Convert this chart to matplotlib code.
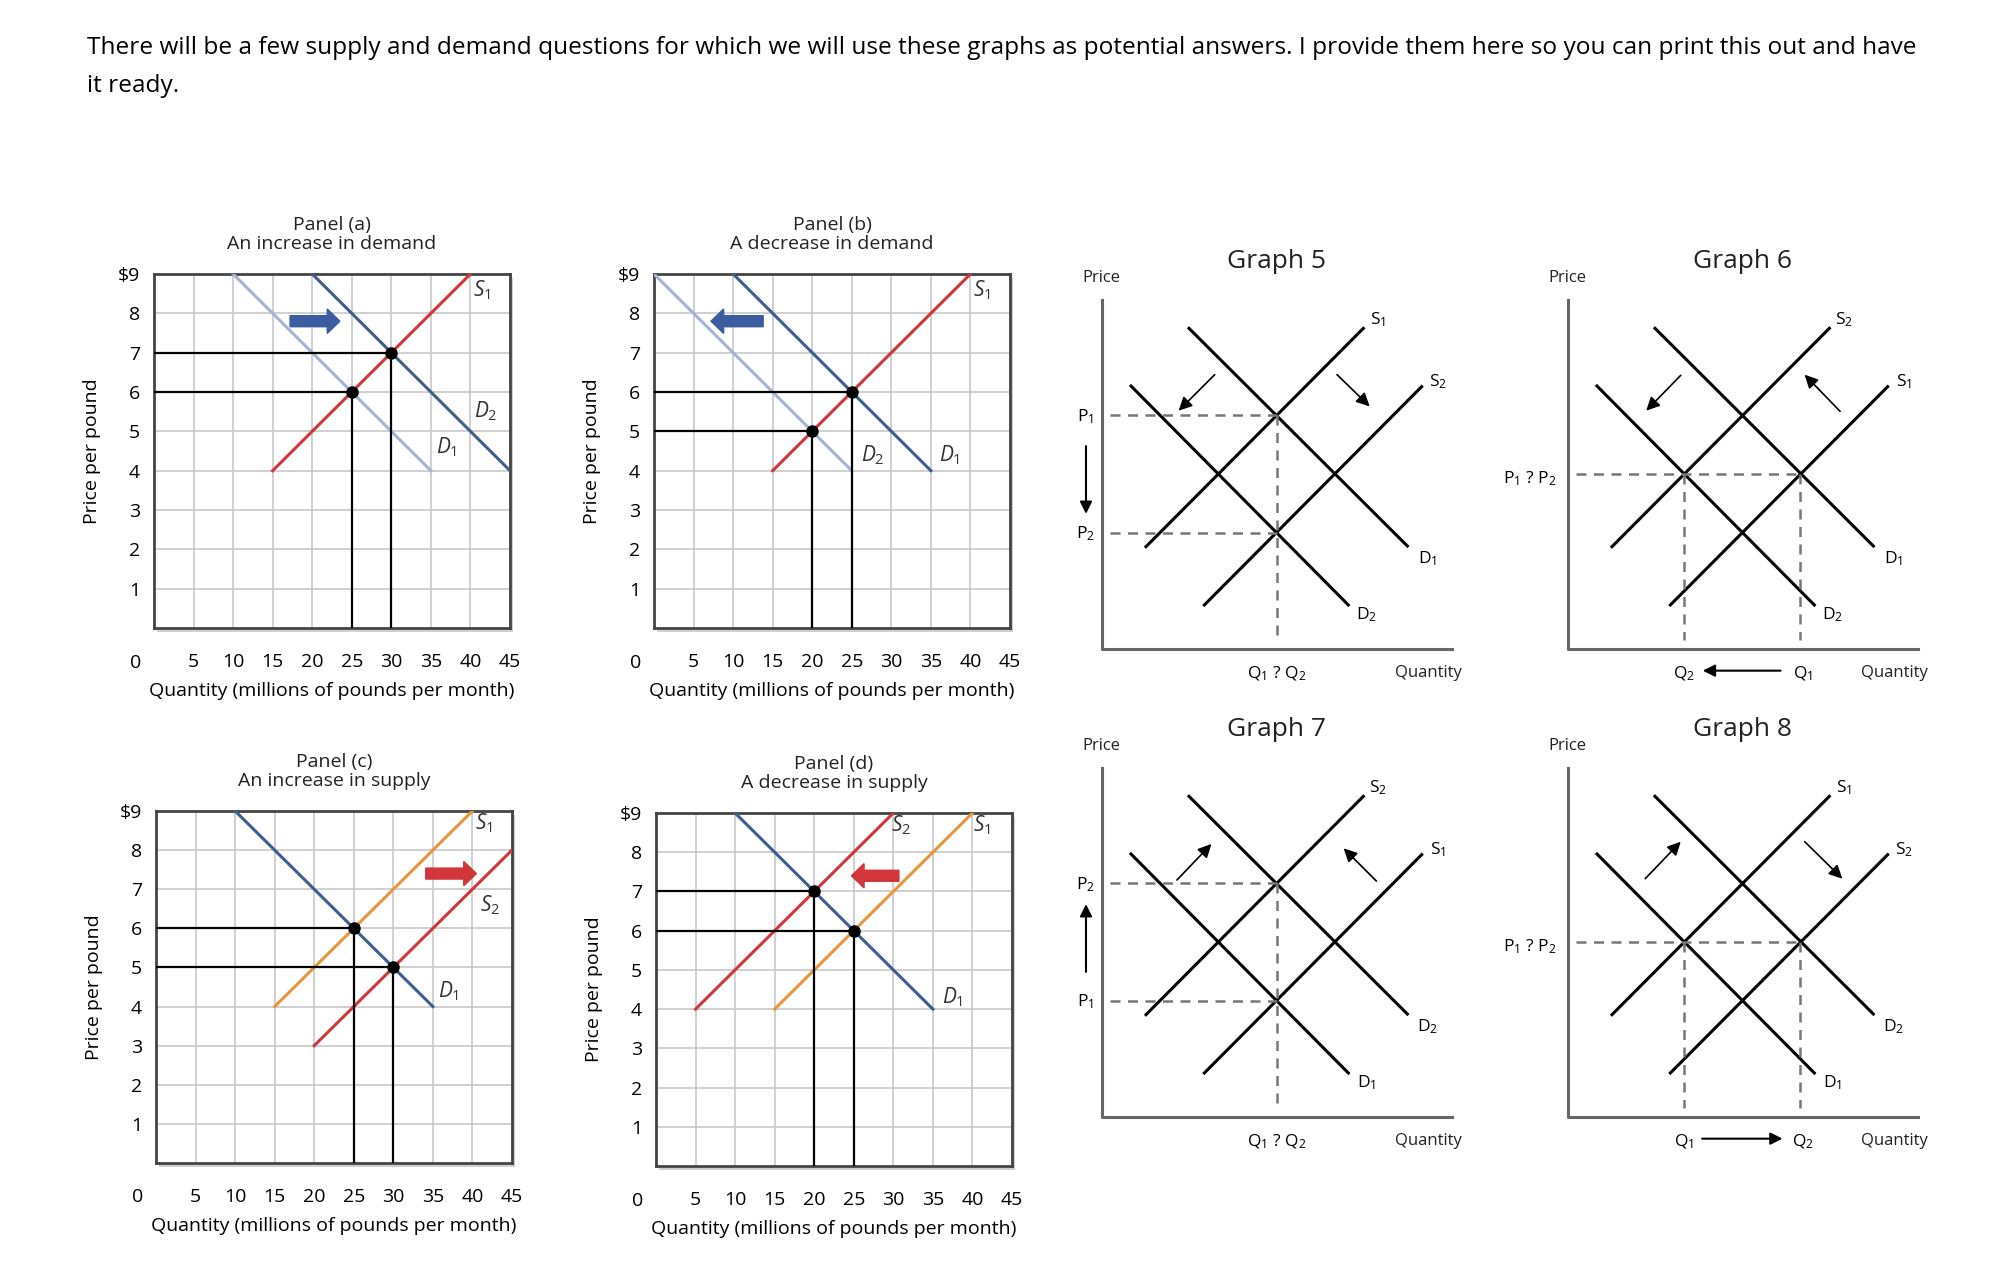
import matplotlib.pyplot as plt
from matplotlib.patches import FancyArrow, Rectangle

plt.rcParams['font.family'] = ['Open Sans', 'DejaVu Sans']
plt.rcParams['mathtext.fontset'] = 'custom'
plt.rcParams['mathtext.rm'] = 'Open Sans'
plt.rcParams['mathtext.it'] = 'Open Sans:italic'

W, H = 1998, 1284

# ---- data for the four grid panels (quantity, price) ----
RED = '#d0363a'
LBLUE = '#a3b4d4'
DBLUE = '#3f5d8f'
ORANGE = '#e8963e'

panel_titles = ['Panel (a)\nAn increase in demand', 'Panel (b)\nA decrease in demand',
                'Panel (c)\nAn increase in supply', 'Panel (d)\nA decrease in supply']
# curves: (x list, y list, colour)
a_curves = [([10, 35], [9, 4], LBLUE), ([20, 45], [9, 4], DBLUE), ([15, 40], [4, 9], RED)]
b_curves = [([0, 25], [9, 4], LBLUE), ([10, 35], [9, 4], DBLUE), ([15, 40], [4, 9], RED)]
c_curves = [([10, 35], [9, 4], DBLUE), ([15, 40], [4, 9], ORANGE), ([20, 45], [3, 8], RED)]
d_curves = [([10, 35], [9, 4], DBLUE), ([15, 40], [4, 9], ORANGE), ([5, 30], [4, 9], RED)]
a_eq = [(25, 6), (30, 7)]
b_eq = [(25, 6), (20, 5)]
c_eq = [(25, 6), (30, 5)]
d_eq = [(20, 7), (25, 6)]
a_labels = [('$S_1$', 41.5, 8.6), ('$D_2$', 42, 5.5), ('$D_1$', 37, 4.6)]
b_labels = [('$S_1$', 41.5, 8.6), ('$D_2$', 27.6, 4.4), ('$D_1$', 37.4, 4.4)]
c_labels = [('$S_1$', 41.5, 8.7), ('$S_2$', 42.2, 6.6), ('$D_1$', 37, 4.4)]
d_labels = [('$S_2$', 31, 8.7), ('$S_1$', 41.2, 8.7), ('$D_1$', 37.5, 4.3)]
# block arrows: x start, dx, y, colour
a_arrow = (17.2, 6.3, 7.8, '#3b5c9e')
b_arrow = (13.8, -6.6, 7.8, '#3b5c9e')
c_arrow = (34.1, 6.4, 7.4, '#d0363a')
d_arrow = (30.7, -6.0, 7.4, '#d0363a')

xticks = [5, 10, 15, 20, 25, 30, 35, 40, 45]
yticks = [1, 2, 3, 4, 5, 6, 7, 8, 9]
ytick_labels = ['1', '2', '3', '4', '5', '6', '7', '8', '$9']

fig = plt.figure(figsize=(W / 100, H / 100), dpi=100)
fig.text(87 / W, 1 - 48 / H, 'There will be a few supply and demand questions for which we will use these graphs as potential answers. I provide them here so you can print this out and have',
         fontsize=17.6, va='center', ha='left')
fig.text(87 / W, 1 - 86 / H, 'it ready.', fontsize=17.6, va='center', ha='left')


def panel(x0, y0, x1, y1, title, curves, eq, labels, arrow):
    ax = fig.add_axes([x0 / W, 1 - y1 / H, (x1 - x0) / W, (y1 - y0) / H])
    # shadow
    fig.patches.append(Rectangle(((x0 + 3) / W, 1 - (y1 + 4) / H), (x1 - x0) / W, (y1 - y0) / H,
                                 transform=fig.transFigure, facecolor='#cfcfcf', edgecolor='none', zorder=-1))
    ax.set_xlim(0, 45)
    ax.set_ylim(0, 9)
    ax.set_facecolor('white')
    for x in xticks:
        ax.axvline(x, color='#c8c8c8', lw=1.2, zorder=0)
    for y in yticks:
        ax.axhline(y, color='#c8c8c8', lw=1.2, zorder=0)
    for s in ax.spines.values():
        s.set_color('#444444')
        s.set_linewidth(2)
    ax.set_xticks(xticks)
    ax.set_xticklabels([str(v) for v in xticks], fontsize=14)
    ax.set_yticks(yticks)
    ax.set_yticklabels(ytick_labels, fontsize=14)
    ax.tick_params(length=0, pad=10)
    ax.tick_params(axis='x', pad=18)
    ax.text(-2.3, -0.88, '0', fontsize=14, ha='center', va='center', clip_on=False)
    for xs, ys, c in curves:
        ax.plot(xs, ys, color=c, lw=2.2, zorder=3)
    for qx, py in eq:
        ax.plot([0, qx, qx], [py, py, 0], color='black', lw=1.6, zorder=4)
        ax.plot(qx, py, 'o', color='black', ms=8, zorder=5)
    for t, lx, ly in labels:
        ax.text(lx, ly, t, fontsize=15, ha='center', va='center', color='#333333')
    xs, dx, ya, c = arrow
    ax.add_patch(FancyArrow(xs, ya, dx, 0, width=0.28, head_width=0.62,
                            head_length=1.6, length_includes_head=True, color=c, zorder=6))
    ax.set_ylabel('Price per pound', fontsize=14, labelpad=12)
    ax.set_xlabel('Quantity (millions of pounds per month)', fontsize=14, labelpad=8)
    ax.set_title(title, fontsize=14, pad=18, linespacing=1.05, color='#222222')
    return ax


panel(154, 274, 510, 628, panel_titles[0], a_curves, a_eq, a_labels, a_arrow)
panel(654, 274, 1010, 628, panel_titles[1], b_curves, b_eq, b_labels, b_arrow)
panel(156, 811, 512, 1163, panel_titles[2], c_curves, c_eq, c_labels, c_arrow)
panel(656, 813, 1012, 1166, panel_titles[3], d_curves, d_eq, d_labels, d_arrow)

# ---- schematic graphs 5-8, drawn in a 1320 x 1410 local frame ----
upper_demand = ([357, 1012], [295, 948])
lower_demand = ([183, 835], [468, 1125])
upper_supply = ([228, 880], [950, 295])
lower_supply = ([403, 1055], [1125, 470])

graph_titles = ['Graph 5', 'Graph 6', 'Graph 7', 'Graph 8']
graph_origin = [(1070, 230), (1536, 230), (1070, 698), (1536, 698)]
# curve labels: upper supply, lower supply, upper demand, lower demand
curve_labels = [['S$_1$', 'S$_2$', 'D$_1$', 'D$_2$'],
                ['S$_2$', 'S$_1$', 'D$_1$', 'D$_2$'],
                ['S$_2$', 'S$_1$', 'D$_2$', 'D$_1$'],
                ['S$_1$', 'S$_2$', 'D$_2$', 'D$_1$']]
shift_arrows = [[(440, 428, 320, 548), (795, 428, 905, 535)],
                [(440, 430, 325, 548), (918, 550, 800, 428)],
                [(315, 552, 430, 432), (925, 555, 815, 445)],
                [(322, 548, 440, 425), (800, 425, 925, 548)]]


def graph(k):
    gx, gy = graph_origin[k]
    ax = fig.add_axes([gx / W, 1 - (gy + 470) / H, 440 / W, 470 / H])
    ax.set_xlim(0, 1320)
    ax.set_ylim(1410, 0)
    ax.axis('off')
    ax.plot([95, 95, 1145], [210, 1258, 1258], color='#666666', lw=2.2)
    for xs, ys in (upper_demand, lower_demand, upper_supply, lower_supply):
        ax.plot(xs, ys, color='black', lw=2.2)
    g = dict(color='#777777', lw=1.8, ls=(0, (4, 3)))
    if k in (0, 2):
        ax.plot([120, 620], [555, 555], **g)
        ax.plot([120, 620], [908, 908], **g)
        ax.plot([620, 620], [555, 1230], **g)
        top, bot = ('P$_1$', 'P$_2$') if k == 0 else ('P$_2$', 'P$_1$')
        ax.text(45, 560, top, fontsize=12.5, ha='center', va='center')
        ax.text(45, 910, bot, fontsize=12.5, ha='center', va='center')
        if k == 0:
            ax.annotate('', xy=(48, 860), xytext=(48, 640),
                        arrowprops=dict(arrowstyle='-|>', color='black', lw=1.5, mutation_scale=18))
        else:
            ax.annotate('', xy=(48, 610), xytext=(48, 830),
                        arrowprops=dict(arrowstyle='-|>', color='black', lw=1.5, mutation_scale=18))
        ax.text(620, 1330, 'Q$_1$ ? Q$_2$', fontsize=12.5, ha='center', va='center')
    else:
        ax.plot([120, 793], [732, 732], **g)
        ax.plot([443, 443], [732, 1230], **g)
        ax.plot([793, 793], [732, 1230], **g)
        ax.text(60, 745, 'P$_1$ ? P$_2$', fontsize=12.5, ha='right', va='center')
        if k == 1:
            ax.text(445, 1330, 'Q$_2$', fontsize=12.5, ha='center', va='center')
            ax.text(800, 1330, 'Q$_1$', fontsize=12.5, ha='center', va='center')
            ax.annotate('', xy=(492, 1322), xytext=(742, 1322),
                        arrowprops=dict(arrowstyle='-|>', color='black', lw=1.5, mutation_scale=18))
        else:
            ax.text(445, 1330, 'Q$_1$', fontsize=12.5, ha='center', va='center')
            ax.text(800, 1330, 'Q$_2$', fontsize=12.5, ha='center', va='center')
            ax.annotate('', xy=(748, 1322), xytext=(490, 1322),
                        arrowprops=dict(arrowstyle='-|>', color='black', lw=1.5, mutation_scale=18))
    for x1, y1, x2, y2 in shift_arrows[k]:
        ax.annotate('', xy=(x2, y2), xytext=(x1, y1),
                    arrowprops=dict(arrowstyle='-|>', color='black', lw=1.2, mutation_scale=20))
    lab = curve_labels[k]
    ax.text(925, 270, lab[0], fontsize=12.5, ha='center', va='center')
    ax.text(1105, 455, lab[1], fontsize=12.5, ha='center', va='center')
    ax.text(1072, 985, lab[2], fontsize=12.5, ha='center', va='center')
    ax.text(890, 1155, lab[3], fontsize=12.5, ha='center', va='center')
    ax.text(1075, 1330, 'Quantity', fontsize=12, ha='center', va='center', color='#222222')
    ax.text(95, 145, 'Price', fontsize=12, ha='center', va='center', color='#222222')
    ax.text(620, 95, graph_titles[k], fontsize=19, ha='center', va='center', color='#222222')


for k in range(4):
    graph(k)

fig.savefig('out.png', dpi=100, facecolor='white')
